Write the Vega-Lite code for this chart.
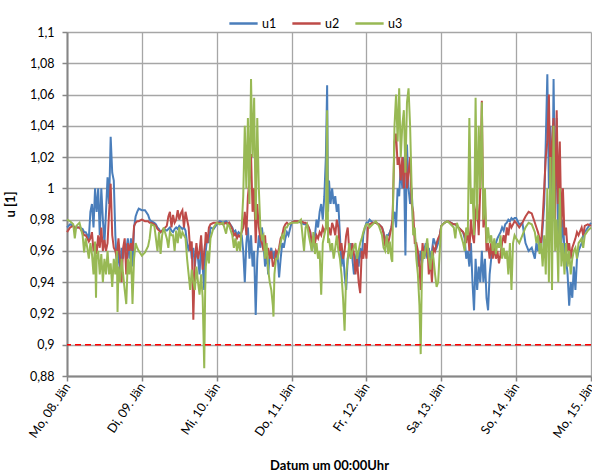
{
"$schema": "https://vega.github.io/schema/vega-lite/v6.json",
"width": 524, "height": 344,
"autosize": "none",
"padding": {"left": 67, "top": 32, "right": 1, "bottom": 99},
"config": {
  "font": "Lato",
  "view": {"stroke": null},
  "axis": {"gridColor": "#A6A6A6", "gridWidth": 1.3, "domainColor": "#868686", "domainWidth": 2, "tickColor": "#868686", "tickWidth": 1.5, "tickSize": 5, "labelFont": "Lato", "labelFontSize": 12.5, "labelColor": "#000000", "titleFont": "Lato", "titleFontSize": 13, "titleFontWeight": "bold", "titleColor": "#000000", "labelOverlap": false, "labelFlush": false, "labelBound": false},
  "legend": {"labelFont": "Lato", "labelFontSize": 12.5, "labelColor": "#000000"}
},
"datasets": {
  "series": [
{"h":0,"u1":0.975,"u2":0.972,"u3":0.980},
{"h":1,"u1":0.977,"u2":0.975,"u3":0.979},
{"h":2,"u1":0.976,"u2":0.976,"u3":0.977},
{"h":2.5,"u1":0.975,"u2":0.974,"u3":0.968},
{"h":3,"u1":0.975,"u2":0.975,"u3":0.976},
{"h":4,"u1":0.975,"u2":0.975,"u3":0.978},
{"h":5,"u1":0.974,"u2":0.972,"u3":0.970},
{"h":5.5,"u1":0.972,"u2":0.970,"u3":0.959},
{"h":6,"u1":0.972,"u2":0.970,"u3":0.968},
{"h":6.5,"u1":0.970,"u2":0.968,"u3":0.962},
{"h":7,"u1":0.968,"u2":0.966,"u3":0.955},
{"h":7.5,"u1":0.985,"u2":0.968,"u3":0.965},
{"h":8,"u1":0.990,"u2":0.972,"u3":0.958},
{"h":8.5,"u1":0.975,"u2":0.960,"u3":0.945},
{"h":9,"u1":1.000,"u2":0.965,"u3":0.966},
{"h":9.3,"u1":0.990,"u2":0.962,"u3":0.930},
{"h":9.5,"u1":0.985,"u2":0.958,"u3":0.955},
{"h":10,"u1":1.000,"u2":0.970,"u3":0.960},
{"h":10.5,"u1":0.970,"u2":0.962,"u3":0.945},
{"h":11,"u1":1.000,"u2":0.975,"u3":0.958},
{"h":11.5,"u1":0.980,"u2":0.960,"u3":0.940},
{"h":12,"u1":0.965,"u2":0.967,"u3":0.955},
{"h":12.5,"u1":0.985,"u2":0.960,"u3":0.945},
{"h":13,"u1":1.007,"u2":0.965,"u3":0.960},
{"h":13.5,"u1":0.990,"u2":0.985,"u3":0.945},
{"h":14,"u1":1.033,"u2":1.003,"u3":0.952},
{"h":14.5,"u1":1.010,"u2":0.970,"u3":0.937},
{"h":15,"u1":1.005,"u2":0.962,"u3":0.955},
{"h":15.5,"u1":0.970,"u2":0.960,"u3":0.945},
{"h":16,"u1":0.950,"u2":0.955,"u3":0.960},
{"h":16.2,"u1":0.955,"u2":0.962,"u3":0.921},
{"h":16.5,"u1":0.960,"u2":0.968,"u3":0.950},
{"h":17,"u1":0.945,"u2":0.955,"u3":0.940},
{"h":17.5,"u1":0.962,"u2":0.940,"u3":0.955},
{"h":18,"u1":0.955,"u2":0.962,"u3":0.945},
{"h":18.5,"u1":0.965,"u2":0.968,"u3":0.935},
{"h":19,"u1":0.960,"u2":0.945,"u3":0.926},
{"h":19.5,"u1":0.968,"u2":0.965,"u3":0.955},
{"h":20,"u1":0.955,"u2":0.960,"u3":0.945},
{"h":20.5,"u1":0.968,"u2":0.965,"u3":0.960},
{"h":21,"u1":0.950,"u2":0.960,"u3":0.926},
{"h":21.5,"u1":0.975,"u2":0.976,"u3":0.955},
{"h":22,"u1":0.982,"u2":0.978,"u3":0.965},
{"h":22.5,"u1":0.985,"u2":0.979,"u3":0.962},
{"h":23,"u1":0.987,"u2":0.979,"u3":0.960},
{"h":24,"u1":0.986,"u2":0.980,"u3":0.957},
{"h":25,"u1":0.986,"u2":0.979,"u3":0.959},
{"h":26,"u1":0.983,"u2":0.979,"u3":0.963},
{"h":26.5,"u1":0.980,"u2":0.978,"u3":0.968},
{"h":27,"u1":0.979,"u2":0.978,"u3":0.977},
{"h":28,"u1":0.978,"u2":0.977,"u3":0.976},
{"h":28.5,"u1":0.977,"u2":0.976,"u3":0.968},
{"h":29,"u1":0.975,"u2":0.974,"u3":0.960},
{"h":29.5,"u1":0.974,"u2":0.973,"u3":0.972},
{"h":30,"u1":0.972,"u2":0.972,"u3":0.958},
{"h":30.5,"u1":0.973,"u2":0.973,"u3":0.970},
{"h":31,"u1":0.974,"u2":0.974,"u3":0.975},
{"h":32,"u1":0.973,"u2":0.976,"u3":0.968},
{"h":32.5,"u1":0.974,"u2":0.982,"u3":0.962},
{"h":33,"u1":0.975,"u2":0.985,"u3":0.972},
{"h":33.5,"u1":0.973,"u2":0.975,"u3":0.970},
{"h":34,"u1":0.972,"u2":0.983,"u3":0.970},
{"h":34.5,"u1":0.974,"u2":0.978,"u3":0.960},
{"h":35,"u1":0.975,"u2":0.980,"u3":0.973},
{"h":35.5,"u1":0.974,"u2":0.986,"u3":0.965},
{"h":36,"u1":0.976,"u2":0.980,"u3":0.975},
{"h":36.5,"u1":0.975,"u2":0.984,"u3":0.968},
{"h":37,"u1":0.974,"u2":0.986,"u3":0.972},
{"h":37.5,"u1":0.975,"u2":0.975,"u3":0.970},
{"h":38,"u1":0.973,"u2":0.985,"u3":0.968},
{"h":38.5,"u1":0.965,"u2":0.980,"u3":0.955},
{"h":39,"u1":0.960,"u2":0.975,"u3":0.945},
{"h":39.5,"u1":0.966,"u2":0.960,"u3":0.935},
{"h":40,"u1":0.955,"u2":0.966,"u3":0.948},
{"h":40.5,"u1":0.962,"u2":0.916,"u3":0.940},
{"h":41,"u1":0.950,"u2":0.955,"u3":0.935},
{"h":41.5,"u1":0.962,"u2":0.965,"u3":0.950},
{"h":42,"u1":0.955,"u2":0.955,"u3":0.940},
{"h":42.5,"u1":0.945,"u2":0.960,"u3":0.932},
{"h":43,"u1":0.965,"u2":0.970,"u3":0.945},
{"h":43.5,"u1":0.950,"u2":0.948,"u3":0.930},
{"h":44,"u1":0.935,"u2":0.960,"u3":0.885},
{"h":44.3,"u1":0.958,"u2":0.965,"u3":0.935},
{"h":44.5,"u1":0.960,"u2":0.972,"u3":0.950},
{"h":45,"u1":0.970,"u2":0.965,"u3":0.960},
{"h":45.5,"u1":0.965,"u2":0.975,"u3":0.952},
{"h":46,"u1":0.975,"u2":0.977,"u3":0.968},
{"h":47,"u1":0.974,"u2":0.978,"u3":0.975},
{"h":48,"u1":0.977,"u2":0.978,"u3":0.978},
{"h":49,"u1":0.979,"u2":0.978,"u3":0.977},
{"h":50,"u1":0.978,"u2":0.977,"u3":0.978},
{"h":51,"u1":0.979,"u2":0.978,"u3":0.971},
{"h":51.5,"u1":0.978,"u2":0.977,"u3":0.977},
{"h":52,"u1":0.978,"u2":0.978,"u3":0.976},
{"h":53,"u1":0.975,"u2":0.974,"u3":0.970},
{"h":53.5,"u1":0.972,"u2":0.970,"u3":0.962},
{"h":54,"u1":0.973,"u2":0.971,"u3":0.968},
{"h":54.5,"u1":0.970,"u2":0.968,"u3":0.960},
{"h":55,"u1":0.972,"u2":0.970,"u3":0.966},
{"h":55.5,"u1":0.971,"u2":0.969,"u3":0.960},
{"h":56,"u1":0.970,"u2":0.972,"u3":0.975},
{"h":56.5,"u1":0.960,"u2":0.975,"u3":0.995},
{"h":57,"u1":0.940,"u2":0.985,"u3":1.040},
{"h":57.5,"u1":0.965,"u2":0.970,"u3":1.000},
{"h":58,"u1":0.975,"u2":0.995,"u3":1.045},
{"h":58.5,"u1":0.955,"u2":1.005,"u3":0.990},
{"h":59,"u1":0.970,"u2":1.022,"u3":1.070},
{"h":59.5,"u1":0.950,"u2":0.985,"u3":1.020},
{"h":60,"u1":0.960,"u2":1.000,"u3":1.058},
{"h":60.5,"u1":0.919,"u2":0.965,"u3":0.980},
{"h":61,"u1":0.955,"u2":0.990,"u3":1.045},
{"h":61.5,"u1":0.970,"u2":0.975,"u3":1.000},
{"h":62,"u1":0.962,"u2":0.968,"u3":0.975},
{"h":62.5,"u1":0.975,"u2":0.965,"u3":0.968},
{"h":63,"u1":0.965,"u2":0.960,"u3":0.970},
{"h":63.5,"u1":0.950,"u2":0.970,"u3":0.955},
{"h":64,"u1":0.960,"u2":0.955,"u3":0.965},
{"h":64.5,"u1":0.945,"u2":0.962,"u3":0.948},
{"h":65,"u1":0.958,"u2":0.955,"u3":0.940},
{"h":65.5,"u1":0.962,"u2":0.960,"u3":0.935},
{"h":66,"u1":0.955,"u2":0.950,"u3":0.925},
{"h":66.2,"u1":0.957,"u2":0.951,"u3":0.918},
{"h":66.5,"u1":0.960,"u2":0.952,"u3":0.945},
{"h":67,"u1":0.955,"u2":0.960,"u3":0.955},
{"h":67.5,"u1":0.958,"u2":0.958,"u3":0.955},
{"h":68,"u1":0.943,"u2":0.962,"u3":0.960},
{"h":68.5,"u1":0.955,"u2":0.968,"u3":0.965},
{"h":69,"u1":0.965,"u2":0.970,"u3":0.970},
{"h":69.5,"u1":0.962,"u2":0.975,"u3":0.968},
{"h":70,"u1":0.968,"u2":0.977,"u3":0.975},
{"h":70.5,"u1":0.972,"u2":0.978,"u3":0.975},
{"h":71,"u1":0.970,"u2":0.977,"u3":0.977},
{"h":72,"u1":0.978,"u2":0.978,"u3":0.978},
{"h":73,"u1":0.979,"u2":0.979,"u3":0.978},
{"h":74,"u1":0.979,"u2":0.979,"u3":0.978},
{"h":75,"u1":0.978,"u2":0.979,"u3":0.980},
{"h":76,"u1":0.977,"u2":0.978,"u3":0.960},
{"h":76.5,"u1":0.977,"u2":0.978,"u3":0.975},
{"h":77,"u1":0.976,"u2":0.977,"u3":0.977},
{"h":77.5,"u1":0.975,"u2":0.975,"u3":0.970},
{"h":78,"u1":0.972,"u2":0.972,"u3":0.965},
{"h":78.5,"u1":0.960,"u2":0.965,"u3":0.960},
{"h":79,"u1":0.965,"u2":0.968,"u3":0.972},
{"h":79.5,"u1":0.970,"u2":0.965,"u3":0.958},
{"h":80,"u1":0.980,"u2":0.970,"u3":0.965},
{"h":80.5,"u1":0.975,"u2":0.968,"u3":0.955},
{"h":81,"u1":0.985,"u2":0.972,"u3":0.960},
{"h":81.5,"u1":0.990,"u2":0.970,"u3":0.932},
{"h":82,"u1":0.980,"u2":0.975,"u3":0.965},
{"h":82.5,"u1":0.995,"u2":0.972,"u3":0.970},
{"h":83,"u1":1.020,"u2":0.975,"u3":0.975},
{"h":83.4,"u1":1.066,"u2":0.978,"u3":1.050},
{"h":83.7,"u1":0.985,"u2":0.972,"u3":0.965},
{"h":84,"u1":1.005,"u2":0.975,"u3":0.968},
{"h":84.5,"u1":0.990,"u2":0.970,"u3":0.960},
{"h":85,"u1":1.000,"u2":0.978,"u3":0.965},
{"h":85.5,"u1":0.990,"u2":0.975,"u3":0.955},
{"h":86,"u1":0.995,"u2":0.970,"u3":0.962},
{"h":86.5,"u1":0.985,"u2":0.980,"u3":0.970},
{"h":87,"u1":0.990,"u2":0.975,"u3":0.960},
{"h":87.5,"u1":0.970,"u2":0.960,"u3":0.955},
{"h":88,"u1":0.950,"u2":0.965,"u3":0.945},
{"h":88.5,"u1":0.960,"u2":0.955,"u3":0.930},
{"h":89,"u1":0.945,"u2":0.960,"u3":0.909},
{"h":89.5,"u1":0.935,"u2":0.970,"u3":0.945},
{"h":90,"u1":0.955,"u2":0.975,"u3":0.955},
{"h":90.5,"u1":0.960,"u2":0.960,"u3":0.965},
{"h":91,"u1":0.965,"u2":0.955,"u3":0.955},
{"h":91.5,"u1":0.955,"u2":0.965,"u3":0.960},
{"h":92,"u1":0.945,"u2":0.958,"u3":0.962},
{"h":92.5,"u1":0.955,"u2":0.945,"u3":0.965},
{"h":93,"u1":0.960,"u2":0.955,"u3":0.955},
{"h":93.5,"u1":0.950,"u2":0.940,"u3":0.960},
{"h":94,"u1":0.962,"u2":0.933,"u3":0.965},
{"h":94.5,"u1":0.955,"u2":0.960,"u3":0.968},
{"h":95,"u1":0.970,"u2":0.955,"u3":0.972},
{"h":95.5,"u1":0.975,"u2":0.965,"u3":0.975},
{"h":96,"u1":0.978,"u2":0.955,"u3":0.977},
{"h":96.5,"u1":0.978,"u2":0.975,"u3":0.977},
{"h":97,"u1":0.980,"u2":0.977,"u3":0.975},
{"h":98,"u1":0.978,"u2":0.978,"u3":0.977},
{"h":99,"u1":0.978,"u2":0.978,"u3":0.979},
{"h":100,"u1":0.977,"u2":0.977,"u3":0.976},
{"h":101,"u1":0.975,"u2":0.975,"u3":0.970},
{"h":101.5,"u1":0.972,"u2":0.971,"u3":0.962},
{"h":102,"u1":0.965,"u2":0.963,"u3":0.960},
{"h":102.5,"u1":0.970,"u2":0.968,"u3":0.970},
{"h":103,"u1":0.970,"u2":0.965,"u3":0.958},
{"h":103.5,"u1":0.972,"u2":0.970,"u3":0.966},
{"h":104,"u1":0.975,"u2":0.975,"u3":0.955},
{"h":104.3,"u1":0.977,"u2":0.980,"u3":0.953},
{"h":104.5,"u1":0.980,"u2":0.990,"u3":0.985},
{"h":105,"u1":0.985,"u2":1.030,"u3":1.040},
{"h":105.5,"u1":0.975,"u2":1.035,"u3":1.060},
{"h":106,"u1":1.000,"u2":1.015,"u3":1.030},
{"h":106.5,"u1":0.995,"u2":1.020,"u3":1.064},
{"h":107,"u1":1.015,"u2":1.005,"u3":1.020},
{"h":107.5,"u1":1.000,"u2":1.020,"u3":1.040},
{"h":108,"u1":1.020,"u2":1.000,"u3":1.050},
{"h":108.5,"u1":0.957,"u2":1.030,"u3":1.010},
{"h":109,"u1":1.028,"u2":1.000,"u3":1.055},
{"h":109.5,"u1":1.000,"u2":1.010,"u3":1.064},
{"h":110,"u1":0.990,"u2":1.020,"u3":1.040},
{"h":110.5,"u1":1.000,"u2":0.990,"u3":1.000},
{"h":111,"u1":0.975,"u2":0.985,"u3":0.970},
{"h":111.5,"u1":0.970,"u2":0.965,"u3":0.975},
{"h":112,"u1":0.960,"u2":0.965,"u3":0.955},
{"h":112.5,"u1":0.950,"u2":0.960,"u3":0.945},
{"h":113,"u1":0.955,"u2":0.950,"u3":0.925},
{"h":113.4,"u1":0.960,"u2":0.935,"u3":0.894},
{"h":113.7,"u1":0.950,"u2":0.955,"u3":0.935},
{"h":114,"u1":0.955,"u2":0.965,"u3":0.960},
{"h":114.5,"u1":0.960,"u2":0.955,"u3":0.955},
{"h":115,"u1":0.965,"u2":0.960,"u3":0.962},
{"h":115.5,"u1":0.955,"u2":0.965,"u3":0.968},
{"h":116,"u1":0.962,"u2":0.945,"u3":0.955},
{"h":116.5,"u1":0.955,"u2":0.955,"u3":0.948},
{"h":117,"u1":0.960,"u2":0.940,"u3":0.960},
{"h":117.5,"u1":0.968,"u2":0.962,"u3":0.955},
{"h":118,"u1":0.965,"u2":0.960,"u3":0.945},
{"h":118.5,"u1":0.962,"u2":0.965,"u3":0.937},
{"h":119,"u1":0.965,"u2":0.968,"u3":0.940},
{"h":119.5,"u1":0.970,"u2":0.970,"u3":0.960},
{"h":120,"u1":0.976,"u2":0.976,"u3":0.976},
{"h":121,"u1":0.978,"u2":0.978,"u3":0.978},
{"h":122,"u1":0.979,"u2":0.979,"u3":0.979},
{"h":123,"u1":0.978,"u2":0.978,"u3":0.977},
{"h":124,"u1":0.977,"u2":0.977,"u3":0.975},
{"h":124.5,"u1":0.977,"u2":0.977,"u3":0.968},
{"h":125,"u1":0.976,"u2":0.976,"u3":0.978},
{"h":126,"u1":0.974,"u2":0.974,"u3":0.972},
{"h":127,"u1":0.972,"u2":0.972,"u3":0.965},
{"h":127.5,"u1":0.968,"u2":0.970,"u3":0.960},
{"h":128,"u1":0.955,"u2":0.965,"u3":0.975},
{"h":128.5,"u1":0.960,"u2":0.975,"u3":0.970},
{"h":129,"u1":0.950,"u2":0.960,"u3":1.045},
{"h":129.5,"u1":0.965,"u2":0.980,"u3":0.990},
{"h":130,"u1":0.940,"u2":0.970,"u3":1.000},
{"h":130.5,"u1":0.922,"u2":0.965,"u3":0.970},
{"h":131,"u1":0.955,"u2":0.985,"u3":1.058},
{"h":131.5,"u1":0.935,"u2":0.990,"u3":0.980},
{"h":132,"u1":0.950,"u2":0.970,"u3":1.040},
{"h":132.5,"u1":0.940,"u2":1.000,"u3":1.000},
{"h":133,"u1":0.960,"u2":1.056,"u3":1.055},
{"h":133.5,"u1":0.940,"u2":0.975,"u3":0.980},
{"h":134,"u1":0.955,"u2":0.990,"u3":1.000},
{"h":134.5,"u1":0.930,"u2":0.960,"u3":0.965},
{"h":135,"u1":0.922,"u2":0.965,"u3":0.975},
{"h":135.5,"u1":0.945,"u2":0.955,"u3":0.965},
{"h":136,"u1":0.955,"u2":0.965,"u3":0.970},
{"h":136.5,"u1":0.960,"u2":0.955,"u3":0.960},
{"h":137,"u1":0.962,"u2":0.962,"u3":0.968},
{"h":137.5,"u1":0.965,"u2":0.955,"u3":0.958},
{"h":138,"u1":0.968,"u2":0.960,"u3":0.965},
{"h":138.5,"u1":0.970,"u2":0.952,"u3":0.962},
{"h":139,"u1":0.972,"u2":0.958,"u3":0.970},
{"h":139.5,"u1":0.975,"u2":0.965,"u3":0.955},
{"h":140,"u1":0.973,"u2":0.970,"u3":0.962},
{"h":140.5,"u1":0.977,"u2":0.965,"u3":0.955},
{"h":141,"u1":0.978,"u2":0.975,"u3":0.960},
{"h":141.5,"u1":0.980,"u2":0.970,"u3":0.945},
{"h":142,"u1":0.979,"u2":0.978,"u3":0.965},
{"h":142.5,"u1":0.981,"u2":0.975,"u3":0.935},
{"h":143,"u1":0.980,"u2":0.977,"u3":0.965},
{"h":143.5,"u1":0.981,"u2":0.979,"u3":0.970},
{"h":144,"u1":0.981,"u2":0.978,"u3":0.968},
{"h":145,"u1":0.977,"u2":0.975,"u3":0.965},
{"h":146,"u1":0.978,"u2":0.978,"u3":0.970},
{"h":147,"u1":0.965,"u2":0.982,"u3":0.975},
{"h":148,"u1":0.960,"u2":0.985,"u3":0.978},
{"h":149,"u1":0.962,"u2":0.984,"u3":0.977},
{"h":150,"u1":0.955,"u2":0.978,"u3":0.972},
{"h":150.5,"u1":0.965,"u2":0.975,"u3":0.965},
{"h":151,"u1":0.960,"u2":0.972,"u3":0.970},
{"h":151.5,"u1":0.968,"u2":0.968,"u3":0.958},
{"h":152,"u1":0.962,"u2":0.965,"u3":0.965},
{"h":152.5,"u1":0.975,"u2":0.980,"u3":0.950},
{"h":153,"u1":0.990,"u2":1.000,"u3":0.970},
{"h":153.5,"u1":1.030,"u2":1.020,"u3":0.945},
{"h":154,"u1":1.073,"u2":1.030,"u3":1.000},
{"h":154.5,"u1":1.000,"u2":1.060,"u3":0.940},
{"h":155,"u1":1.040,"u2":1.000,"u3":1.020},
{"h":155.5,"u1":0.970,"u2":1.030,"u3":0.935},
{"h":156,"u1":1.070,"u2":1.045,"u3":1.040},
{"h":156.5,"u1":0.990,"u2":0.980,"u3":0.960},
{"h":157,"u1":1.045,"u2":1.050,"u3":0.980},
{"h":157.5,"u1":0.960,"u2":0.990,"u3":0.940},
{"h":158,"u1":1.000,"u2":1.030,"u3":1.000},
{"h":158.5,"u1":0.965,"u2":0.975,"u3":0.950},
{"h":159,"u1":0.980,"u2":1.000,"u3":0.965},
{"h":159.5,"u1":0.960,"u2":0.970,"u3":0.945},
{"h":160,"u1":0.955,"u2":0.975,"u3":0.965},
{"h":160.5,"u1":0.945,"u2":0.960,"u3":0.950},
{"h":161,"u1":0.925,"u2":0.965,"u3":0.960},
{"h":161.5,"u1":0.940,"u2":0.955,"u3":0.945},
{"h":162,"u1":0.930,"u2":0.962,"u3":0.955},
{"h":162.5,"u1":0.950,"u2":0.965,"u3":0.960},
{"h":163,"u1":0.935,"u2":0.968,"u3":0.962},
{"h":163.5,"u1":0.955,"u2":0.972,"u3":0.955},
{"h":164,"u1":0.960,"u2":0.970,"u3":0.965},
{"h":165,"u1":0.965,"u2":0.975,"u3":0.968},
{"h":165.5,"u1":0.970,"u2":0.970,"u3":0.962},
{"h":166,"u1":0.972,"u2":0.976,"u3":0.970},
{"h":167,"u1":0.975,"u2":0.977,"u3":0.973},
{"h":168,"u1":0.978,"u2":0.976,"u3":0.975}
  ],
  "ref": [{"value": 0.9}]
},
"encoding": {
  "y": {"field": "value", "type": "quantitative",
    "scale": {"domain": [0.88, 1.1], "nice": false, "zero": false},
    "axis": {"values": [0.88, 0.9, 0.92, 0.94, 0.96, 0.98, 1.0, 1.02, 1.04, 1.06, 1.08, 1.1],
      "labelExpr": "replace(toString(round(datum.value*100)/100), '.', ',')",
      "labelPadding": 8, "title": "u [1]", "titleX": -50, "titleBaseline": "bottom"}}
},
"layer": [
  {
    "data": {"name": "series"},
    "transform": [{"fold": ["u1", "u2", "u3"], "as": ["key", "value"]}],
    "mark": {"type": "line", "strokeWidth": 2, "interpolate": "linear"},
    "encoding": {
      "x": {"field": "h", "type": "quantitative",
        "scale": {"domain": [0, 168], "nice": false, "zero": false},
        "axis": {"values": [0, 24, 48, 72, 96, 120, 144, 168],
          "labelExpr": "['Mo, 08. Jän','Di, 09. Jän','Mi, 10. Jän','Do, 11. Jän','Fr, 12. Jän','Sa, 13. Jän','So, 14. Jän','Mo, 15. Jän'][round(datum.value/24)]",
          "labelAngle": -56, "labelAlign": "right", "labelBaseline": "middle", "labelPadding": 3,
          "title": "Datum um 00:00Uhr", "titleY": 93, "titleBaseline": "alphabetic"}},
      "color": {"field": "key", "type": "nominal",
        "scale": {"domain": ["u1", "u2", "u3"], "range": ["#4A7EBB", "#BE4B48", "#98B954"]},
        "legend": {"title": null, "orient": "none", "direction": "horizontal", "legendX": 161, "legendY": -24,
          "symbolType": "stroke", "symbolStrokeWidth": 2.5, "symbolSize": 800, "labelOffset": 3, "columnPadding": 10}}
    }
  },
  {
    "data": {"name": "ref"},
    "mark": {"type": "rule", "color": "#FF0000", "strokeDash": [6, 4], "strokeWidth": 1.5},
    "encoding": {}
  }
]
}
